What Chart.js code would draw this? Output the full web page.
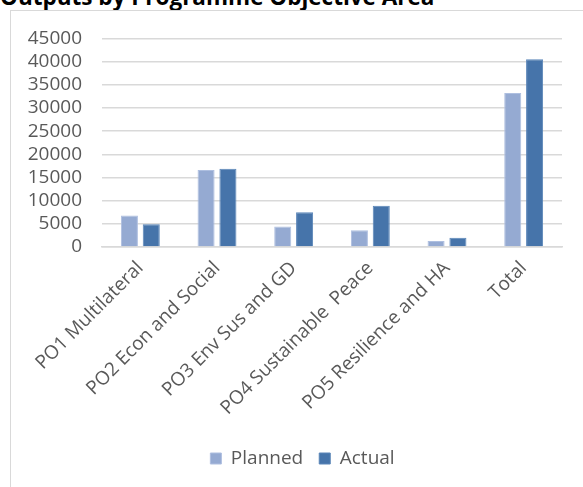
<!DOCTYPE html>
<html>
<head>
<meta charset="utf-8">
<script src="https://cdn.jsdelivr.net/npm/chart.js@4.4.1/dist/chart.umd.min.js"></script>
<style>
  html, body { margin: 0; padding: 0; background: #ffffff; }
  body { width: 583px; height: 487px; overflow: hidden; position: relative; }
  #title {
    position: absolute; left: 0px; top: -14px;
    font-family: "Open Sans", sans-serif; font-weight: bold;
    font-size: 22.5px; line-height: 22px; color: #000000; white-space: nowrap;
  }
  #frame {
    position: absolute; left: 10px; top: 10px; width: 620px; height: 520px;
    border: 1.5px solid #d9d9d9; box-sizing: border-box;
  }
  #wrap { position: absolute; left: 11px; top: 7px; width: 572px; height: 476px; }
</style>
</head>
<body>
<div id="title">Outputs by Programme Objective Area</div>
<div id="frame"></div>
<div id="wrap"><canvas id="chart"></canvas></div>
<script>
// Outputs per programme objective area
const categories = [
  'PO1 Multilateral',
  'PO2 Econ and Social',
  'PO3 Env Sus and GD',
  'PO4 Sustainable  Peace',
  'PO5 Resilience and HA',
  'Total'
];
const planned = [6800, 16600, 4400, 3600, 1300, 33200];
const actual  = [4900, 16900, 7500, 8900, 2000, 40500];
const yTicks  = [0, 5000, 10000, 15000, 20000, 25000, 30000, 35000, 40000, 45000];

const FONT = '"Open Sans", sans-serif';
const TEXT = '#595959';
const GRID = '#d9d9d9';

// Nudge the legend row to the right so it sits centred under the plot
const legendShift = {
  id: 'legendShift',
  afterLayout(chart) {
    const lg = chart.legend;
    if (lg) { lg.left += 16; lg.right += 16; }
  }
};

new Chart(document.getElementById('chart'), {
  type: 'bar',
  plugins: [legendShift],
  data: {
    labels: categories,
    datasets: [
      {
        label: 'Planned', data: planned,
        backgroundColor: '#95aad2', borderColor: '#aebfe0', borderWidth: 1,
        categoryPercentage: 0.57, barPercentage: 0.78
      },
      {
        label: 'Actual', data: actual,
        backgroundColor: '#4674aa', borderColor: '#5a85b8', borderWidth: 1,
        categoryPercentage: 0.57, barPercentage: 0.78
      }
    ]
  },
  options: {
    responsive: true,
    maintainAspectRatio: false,
    animation: false,
    layout: { padding: { top: 14, right: 21, bottom: 5, left: 0 } },
    plugins: {
      title: { display: false },
      tooltip: { enabled: false },
      legend: {
        position: 'bottom',
        labels: {
          font: { family: FONT, size: 19 },
          color: TEXT,
          boxWidth: 11, boxHeight: 11,
          padding: 16
        }
      }
    },
    scales: {
      x: {
        grid: { display: false, drawTicks: false },
        border: { display: true, color: GRID, width: 1.5 },
        ticks: {
          font: { family: FONT, size: 19 },
          color: TEXT,
          minRotation: 45, maxRotation: 45,
          autoSkip: false,
          padding: 10
        },
        afterFit: (scale) => { scale.height = 186; }
      },
      y: {
        min: 0, max: 45000,
        afterBuildTicks: (scale) => { scale.ticks = yTicks.map(v => ({ value: v })); },
        grid: { color: GRID, lineWidth: 1.5, drawTicks: false },
        border: { display: false },
        ticks: {
          font: { family: FONT, size: 19 },
          color: TEXT,
          autoSkip: false,
          padding: 20,
          callback: (v) => String(v)
        },
        afterFit: (scale) => { scale.width = 91; }
      }
    }
  }
});
</script>
</body>
</html>
